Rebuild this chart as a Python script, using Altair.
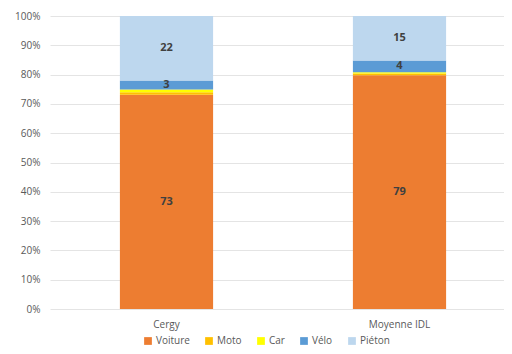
import altair as alt
import pandas as pd

categories = ["Cergy", "Moyenne IDL"]
modes = ["Voiture", "Moto", "Car", "Vélo", "Piéton"]
colors = ["#ED7D31", "#FFC000", "#FFFF00", "#5B9BD5", "#BDD7EE"]
cergy = [73, 0.8, 1, 3, 22]
idl = [79, 0.6, 0.4, 4, 15]
labelled = ["Voiture", "Vélo", "Piéton"]
tick_values = [0, 0.1, 0.2, 0.3, 0.4, 0.5, 0.6, 0.7, 0.8, 0.9, 1.0]

rows = []
for cat, vals in zip(categories, [cergy, idl]):
    for i, (m, v) in enumerate(zip(modes, vals)):
        rows.append({"cat": cat, "mode": m, "value": v, "order": i,
                     "label": str(int(round(v))) if m in labelled else ""})
df = pd.DataFrame(rows)

FONT = "Open Sans"

base = alt.Chart(df).transform_stack(
    stack="value", groupby=["cat"], as_=["y0", "y1"], offset="normalize",
    sort=[alt.SortField("order", order="ascending")]
).transform_calculate(mid="(datum.y0 + datum.y1) / 2")

xenc = alt.X("cat:N", sort=categories, title=None,
             scale=alt.Scale(paddingInner=0.6, paddingOuter=0.3, range=[0, 466]),
             axis=alt.Axis(labelAngle=0, domain=False, ticks=False, labelFontSize=10,
                           labelColor="#595959", labelFont=FONT, labelPadding=10))

yaxis = alt.Axis(format="%", values=tick_values, domain=False,
                 ticks=False, labelFontSize=10, labelColor="#595959",
                 labelFont=FONT, gridColor="#E4E4E4", labelPadding=10,
                 labelOverlap=False)

bars = base.mark_bar().encode(
    x=xenc,
    y=alt.Y("y0:Q", scale=alt.Scale(domain=[0, 1]), title=None, axis=yaxis),
    y2="y1:Q",
    color=alt.Color("mode:N", sort=modes,
                    scale=alt.Scale(domain=modes, range=colors),
                    legend=alt.Legend(orient="none", legendX=93, legendY=320,
                                      direction="horizontal", title=None,
                                      symbolType="square", symbolSize=60,
                                      symbolStrokeWidth=0, labelFontSize=10,
                                      labelFont=FONT, labelColor="#595959",
                                      columnPadding=14, labelOffset=3)),
    order=alt.Order("order:Q"),
)

text = base.transform_filter(alt.datum.label != "").mark_text(
    fontSize=11, fontWeight="bold", color="#404040", font=FONT, baseline="middle"
).encode(
    x=xenc,
    y=alt.Y("mid:Q", scale=alt.Scale(domain=[0, 1]), title=None, axis=yaxis),
    text="label:N",
)

chart = alt.layer(bars, text).properties(
    width=454, height=293,
    autosize=alt.AutoSizeParams(type="none"),
    padding={"left": 42, "top": 8, "right": 0, "bottom": 40},
).configure_view(stroke=None)

chart.save("out.html", embed_options={"renderer": "svg", "actions": False})
